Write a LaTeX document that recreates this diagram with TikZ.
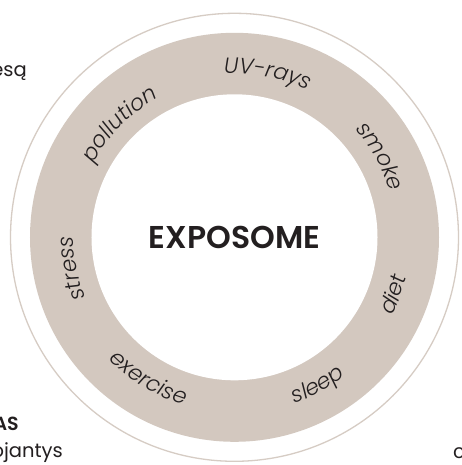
\documentclass[tikz,border=0pt]{standalone}
\usepackage{fontspec}
\setmainfont{Poppins}
\newfontfamily\semib{Poppins SemiBold}
\newfontfamily\lightf{Poppins Light}
\usetikzlibrary{decorations.text}
\definecolor{ringcol}{HTML}{D3C8BF}
\definecolor{outcol}{HTML}{D6CCC4}
\definecolor{txt}{HTML}{231F20}
\newcommand{\ringfont}{\lightf\fontsize{22}{26}\selectfont\itshape\color{txt}}
\tikzset{
  cwlabel/.style={decorate, decoration={text along path, text align=center, text={|\ringfont|#1}}},
  edgetext/.style={text=txt, font=\fontsize{19.5}{23}\selectfont, inner sep=0pt}
}
\begin{document}
\begin{tikzpicture}[x=1pt,y=1pt]
\useasboundingbox (-234.5,-227.7) rectangle (227.5,237.3);
\clip (-234.5,-227.7) rectangle (227.5,237.3);
\fill[white] (-234.5,-227.7) rectangle (227.5,237.3);
\node[circle, draw=outcol, line width=1.3pt, minimum size=448pt, inner sep=0pt] (outer) at (0,0) {};
\node[circle, fill=ringcol, minimum size=409pt, inner sep=0pt] (ring) at (0,0) {};
\node[circle, fill=white, minimum size=286pt, inner sep=0pt, text=txt, font=\semib\fontsize{31.5}{36}\selectfont] (core) at (0,0) {EXPOSOME};
% clockwise labels (tops outward)
\path[cwlabel={UV-rays}] (78.5+45:164) arc[start angle=78.5+45, end angle=78.5-45, radius=164];
\path[cwlabel={smoke}] (29+45:162) arc[start angle=29+45, end angle=29-45, radius=162];
\path[cwlabel={stress}] (190.8+45:161) arc[start angle=190.8+45, end angle=190.8-45, radius=161];
\path[cwlabel={pollution}] (135.5+45:159) arc[start angle=135.5+45, end angle=135.5-45, radius=159];
% counterclockwise labels (tops inward)
\path[cwlabel={diet}] (-19.8-45:176) arc[start angle=-19.8-45, end angle=-19.8+45, radius=176];
\path[cwlabel={sleep}] (-60.7-45:177) arc[start angle=-60.7-45, end angle=-60.7+45, radius=177];
\path[cwlabel={exercise}] (238.7-45:175) arc[start angle=238.7-45, end angle=238.7+45, radius=175];
% partial edge texts
\node[edgetext, anchor=base east] (t1) at (-207.5,160.6) {esą};
\node[edgetext, anchor=base east, font=\semib\fontsize{19}{22}\selectfont] (t2) at (-215.5,-192.7) {AS};
\node[edgetext, anchor=base east] (t3) at (-171.5,-219.7) {ojantys};
\node[edgetext, anchor=base west] (t4) at (218.5,-220.7) {c};
\end{tikzpicture}
\end{document}
